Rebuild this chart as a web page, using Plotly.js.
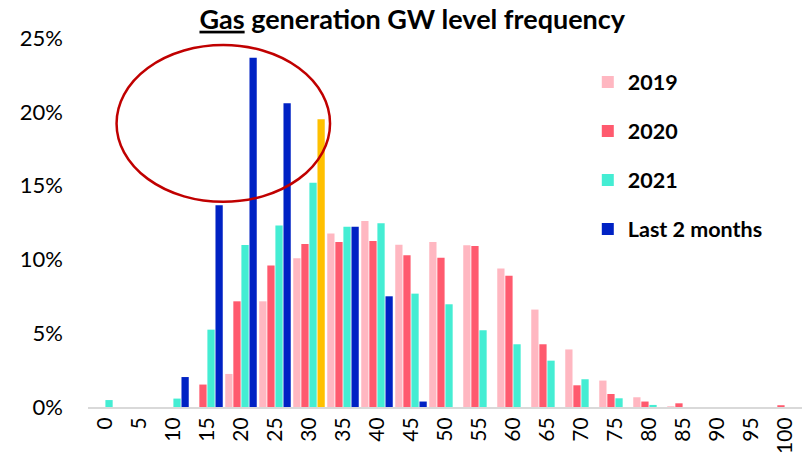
<!DOCTYPE html>
<html>
<head>
<meta charset="utf-8">
<script src="https://cdn.plot.ly/plotly-3.0.1.min.js"></script>
<style>html,body{margin:0;padding:0;background:#fff;}#chart{width:810px;height:459px;}</style>
</head>
<body>
<div id="chart"></div>
<script>
// Categories: GW level bins
var categories = ['0','5','10','15','20','25','30','35','40','45','50','55','60','65','70','75','80','85','90','95','100'];
// Frequency (%) per series
var y2019 = [0,0,0,0,2.24,7.16,10.07,11.75,12.6,11.0,11.18,10.96,9.38,6.6,3.9,1.79,0.66,0.05,0,0,0];
var y2020 = [0,0,0,1.52,7.16,9.58,11.04,11.18,11.25,10.28,10.12,10.91,8.9,4.25,1.47,0.88,0.37,0.25,0,0,0.12];
var y2021 = [0.47,0,0.57,5.24,10.98,12.29,15.2,12.22,12.45,7.68,6.96,5.2,4.25,3.14,1.88,0.59,0.14,0,0,0,0];
var yLast2 = [0,0,2.03,13.67,23.67,20.58,19.49,12.22,7.5,0.37,0,0,0,0,0,0,0,0,0,0,0];
var highlightCategory = '30';

var FONT = 'Lato, "Open Sans", sans-serif';
var blue = '#0022C4', orange = '#FFC000';
var last2Colors = categories.map(function(c){ return c === highlightCategory ? orange : blue; });

function bar(name, y, color, grp){
  return {type:'bar', name:name, x:categories, y:y, legendgroup:grp,
          marker:{color:color, line:{width:0}}, hoverinfo:'x+y'};
}
var traces = [
  bar('2019', y2019, '#FFB7C1', 'a'),
  bar('2020', y2020, '#FF5A6E', 'b'),
  bar('2021', y2021, '#44EDD3', 'c'),
  bar('Last 2 months', yLast2, last2Colors, 'd')
];

var layout = {
  width:810, height:459,
  margin:{l:88, r:8, t:38, b:52},
  paper_bgcolor:'#fff', plot_bgcolor:'#fff',
  font:{family:FONT, color:'#000'},
  barmode:'group', bargap:0.05, bargroupgap:0.1,
  title:{text:'<b><u>Gas</u> generation GW level frequency</b>', x:0.509, xref:'container', xanchor:'center',
         y:0.958, yref:'container', yanchor:'middle', font:{family:FONT, size:27, color:'#000'}},
  xaxis:{type:'category', tickangle:-90, tickfont:{family:FONT, size:21, color:'#000'},
         showgrid:false, zeroline:false, showline:true, linecolor:'#D9D9D9', linewidth:2,
         ticks:'', range:[-0.5,20.5], fixedrange:true},
  yaxis:{range:[0,25], dtick:5, ticksuffix:'%', showgrid:false, zeroline:false, showline:false,
         tickfont:{family:FONT, size:22, color:'#000'}, ticks:'', ticklabelstandoff:24, fixedrange:true},
  showlegend:true,
  legend:{x:0.70, xanchor:'left', y:0.936, yanchor:'top', traceorder:'grouped', tracegroupgap:18,
          font:{family:FONT, size:21.5, color:'#000', weight:'bold'}, bgcolor:'rgba(0,0,0,0)', borderwidth:0},
  shapes:[{type:'circle', xref:'paper', yref:'paper', x0:0.040, x1:0.339, y0:0.556, y1:0.981,
           line:{color:'#C00000', width:2.5}, fillcolor:'rgba(0,0,0,0)'}]
};
Plotly.newPlot('chart', traces, layout, {displayModeBar:false, staticPlot:true}).then(function(){
  // legend swatch of "Last 2 months" is blue (the highlighted bar is orange)
  var tr = document.querySelectorAll('.legend .traces');
  if (tr.length === 4) {
    var p = tr[3].querySelector('.legendpoints path');
    if (p) p.style.fill = blue;
  }
});
</script>
</body>
</html>
